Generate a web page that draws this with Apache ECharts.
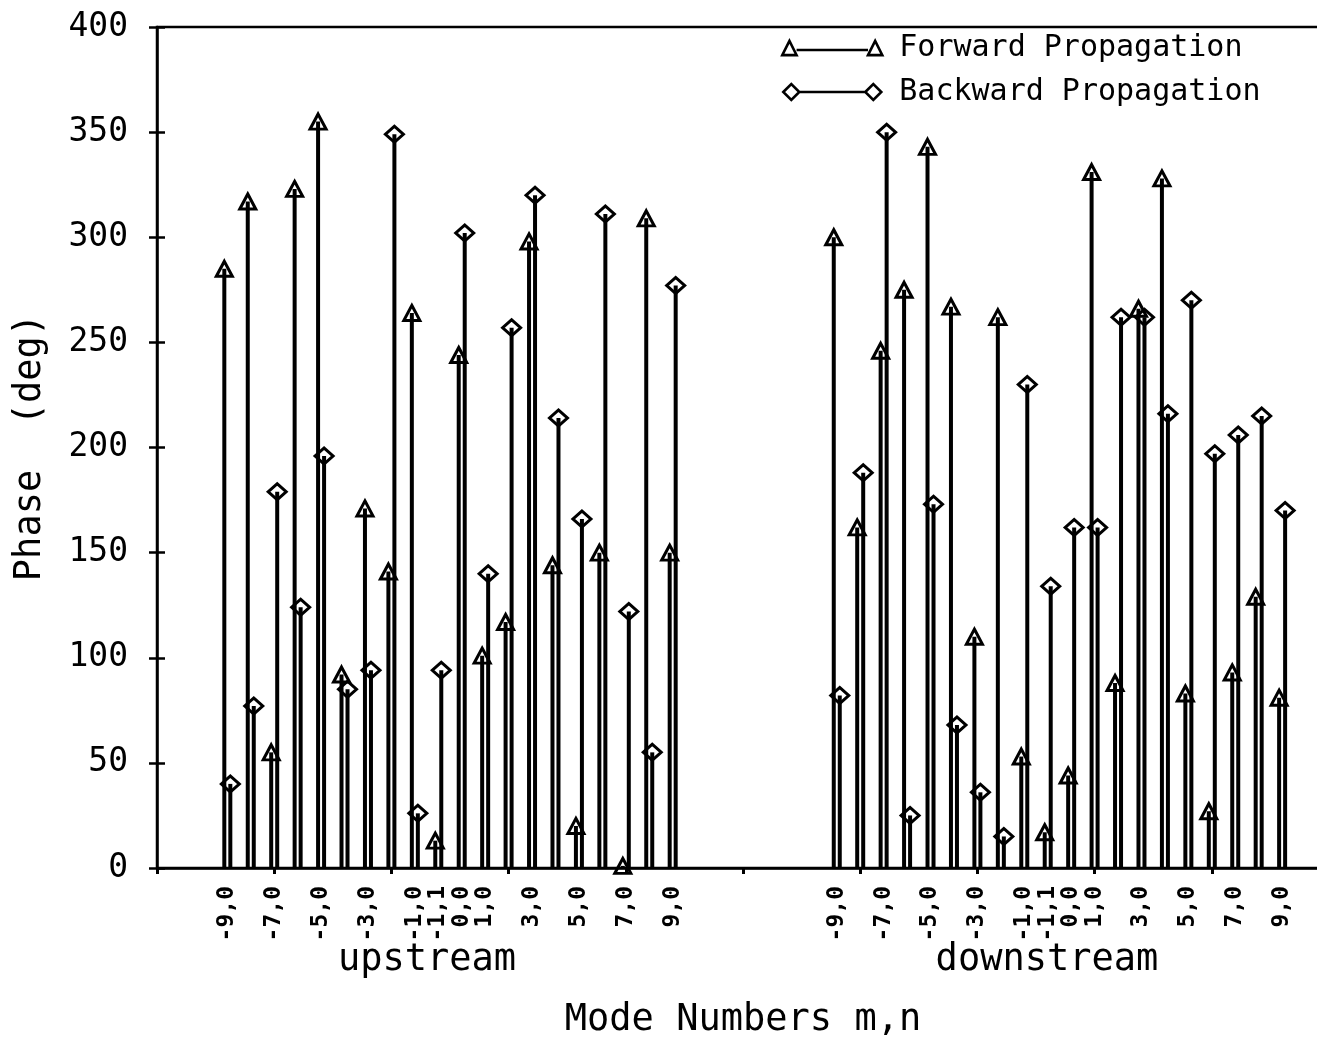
<!DOCTYPE html>
<html>
<head>
<meta charset="utf-8">
<title>Phase of propagating modes</title>
<script src="https://cdn.jsdelivr.net/npm/echarts@6/dist/echarts.min.js"></script>
<style>
  html, body { margin: 0; padding: 0; background: #fff; }
  #chart { width: 1317px; height: 1037px; }
</style>
</head>
<body>
<div id="chart"></div>
<script>
// Mode numbers (m,n) shown in each group, in plotting order
const modes = ['-9,0', '-8,0', '-7,0', '-6,0', '-5,0', '-4,0', '-3,0', '-2,0', '-1,0', '-1,1',
               '0,0', '1,0', '2,0', '3,0', '4,0', '5,0', '6,0', '7,0', '8,0', '9,0'];
// Modes that carry a tick label under the axis
const tickLabels = ['-9,0', '-7,0', '-5,0', '-3,0', '-1,0', '-1,1', '0,0', '1,0', '3,0', '5,0', '7,0', '9,0'];
const groups = ['upstream', 'downstream'];

// Phase in degrees
const upstreamForward   = [285, 317, 55, 323, 355, 92, 171, 141, 264, 13, 244, 101, 117, 298, 144, 20, 150, 1, 309, 150];
const upstreamBackward  = [40, 77, 179, 124, 196, 85, 94, 349, 26, 94, 302, 140, 257, 320, 214, 166, 311, 122, 55, 277];
const downstreamForward = [300, 162, 246, 275, 343, 267, 110, 262, 53, 17, 44, 331, 88, 266, 328, 83, 27, 93, 129, 81];
const downstreamBackward= [82, 188, 350, 25, 173, 68, 36, 15, 230, 134, 162, 162, 262, 262, 216, 270, 197, 206, 215, 170];

const phaseTicks = [0, 50, 100, 150, 200, 250, 300, 350, 400];

// Empty slots on the category axis before, between and after the two groups
const LEAD = 3, GAP = 6, TRAIL = 2;
const blank = n => Array(n).fill('-');

const slots = [];
for (let i = 0; i < LEAD; i++) slots.push('lead' + i);
modes.forEach(m => slots.push(groups[0] + '|' + m));
for (let i = 0; i < GAP; i++) slots.push('gap' + i);
modes.forEach(m => slots.push(groups[1] + '|' + m));
for (let i = 0; i < TRAIL; i++) slots.push('trail' + i);

const spread = (up, down) => [...blank(LEAD), ...up, ...blank(GAP), ...down, ...blank(TRAIL)];
const forward = spread(upstreamForward, downstreamForward);
const backward = spread(upstreamBackward, downstreamBackward);

const MONO = '"DejaVu Sans Mono", "Liberation Mono", monospace';
const INK = '#000';

// legend keys: marker, connecting line, marker
const triLegend = 'path://M1,15L8,1L15,15ZM15,10L85,10M85,15L92,1L99,15Z';
const diaLegend = 'path://M1,8L9,0L17,8L9,16ZM17,8L83,8M83,8L91,0L99,8L91,16Z';

const chart = echarts.init(document.getElementById('chart'), null, { renderer: 'canvas' });

chart.setOption({
  backgroundColor: '#fff',
  animation: false,
  grid: {
    left: 157, right: -12, top: 27, bottom: 169,
    containLabel: false,
    outerBoundsMode: 'none',
    show: true, borderColor: INK, borderWidth: 2.5, backgroundColor: 'transparent'
  },
  legend: {
    orient: 'vertical',
    left: 776, top: 26,
    itemWidth: 100, itemHeight: 16, itemGap: 10,
    selectedMode: false,
    textStyle: { fontFamily: MONO, fontSize: 30, color: INK, lineHeight: 34, padding: [0, 0, 0, 12] },
    data: [
      { name: 'Forward Propagation', icon: triLegend,
        itemStyle: { color: 'transparent', borderColor: INK, borderWidth: 2.6 } },
      { name: 'Backward Propagation', icon: diaLegend,
        itemStyle: { color: 'transparent', borderColor: INK, borderWidth: 2.6 } }
    ]
  },
  xAxis: {
    type: 'category',
    data: slots,
    boundaryGap: false,
    name: 'Mode Numbers m,n',
    nameLocation: 'middle',
    nameGap: 134,
    nameTextStyle: { fontFamily: MONO, fontSize: 37, color: INK },
    axisLine: { show: true, onZero: false, lineStyle: { color: INK, width: 2.5 } },
    axisTick: {
      show: true, length: 6, inside: false,
      interval: idx => idx % 5 === 0,
      lineStyle: { color: INK, width: 3 }
    },
    axisLabel: {
      interval: 0, rotate: 90, margin: 18, hideOverlap: false,
      fontFamily: MONO, fontSize: 23, fontWeight: 'bold', color: INK,
      formatter: v => {
        const m = v.split('|')[1];
        return m && tickLabels.includes(m) ? m : '';
      }
    },
    splitLine: { show: false }
  },
  yAxis: [
    {
      type: 'value', min: phaseTicks[0], max: phaseTicks[phaseTicks.length - 1],
      interval: phaseTicks[1] - phaseTicks[0],
      name: 'Phase  (deg)',
      nameLocation: 'middle', nameRotate: 90, nameGap: 108,
      nameTextStyle: { fontFamily: MONO, fontSize: 37, color: INK },
      axisLine: { show: true, lineStyle: { color: INK, width: 2.5 } },
      axisTick: { show: true, length: 8, lineStyle: { color: INK, width: 2.5 } },
      axisLabel: { margin: 29, fontFamily: MONO, fontSize: 33, color: INK },
      splitLine: { show: false }
    },
    {
      // inward half of the crossing ticks
      type: 'value', min: phaseTicks[0], max: phaseTicks[phaseTicks.length - 1],
      interval: phaseTicks[1] - phaseTicks[0],
      position: 'left', offset: 0,
      axisLine: { show: false },
      axisTick: { show: true, inside: true, length: 8, lineStyle: { color: INK, width: 2.5 } },
      axisLabel: { show: false },
      splitLine: { show: false }
    }
  ],
  series: [
    {
      name: 'Forward stem', type: 'bar', data: forward,
      barWidth: 4, barGap: '50%',
      itemStyle: { color: INK }, silent: true
    },
    {
      name: 'Backward stem', type: 'bar', data: backward,
      barWidth: 4, barGap: '50%',
      itemStyle: { color: INK }, silent: true
    },
    {
      name: 'Forward Propagation', type: 'scatter', data: forward,
      symbol: 'triangle', symbolSize: [16, 15], symbolOffset: [-3, 0],
      itemStyle: { color: 'transparent', borderColor: INK, borderWidth: 3, opacity: 1 },
      z: 5
    },
    {
      name: 'Backward Propagation', type: 'scatter', data: backward,
      symbol: 'diamond', symbolSize: [18, 16], symbolOffset: [3, 0],
      itemStyle: { color: 'transparent', borderColor: INK, borderWidth: 3, opacity: 1 },
      z: 5
    }
  ],
  graphic: [
    { type: 'text', x: 427, y: 960,
      style: { text: groups[0], font: '37px ' + MONO, fill: INK, align: 'center', verticalAlign: 'middle',
               textAlign: 'center', textVerticalAlign: 'middle' } },
    { type: 'text', x: 1047, y: 960,
      style: { text: groups[1], font: '37px ' + MONO, fill: INK, align: 'center', verticalAlign: 'middle',
               textAlign: 'center', textVerticalAlign: 'middle' } }
  ]
});
</script>
</body>
</html>
